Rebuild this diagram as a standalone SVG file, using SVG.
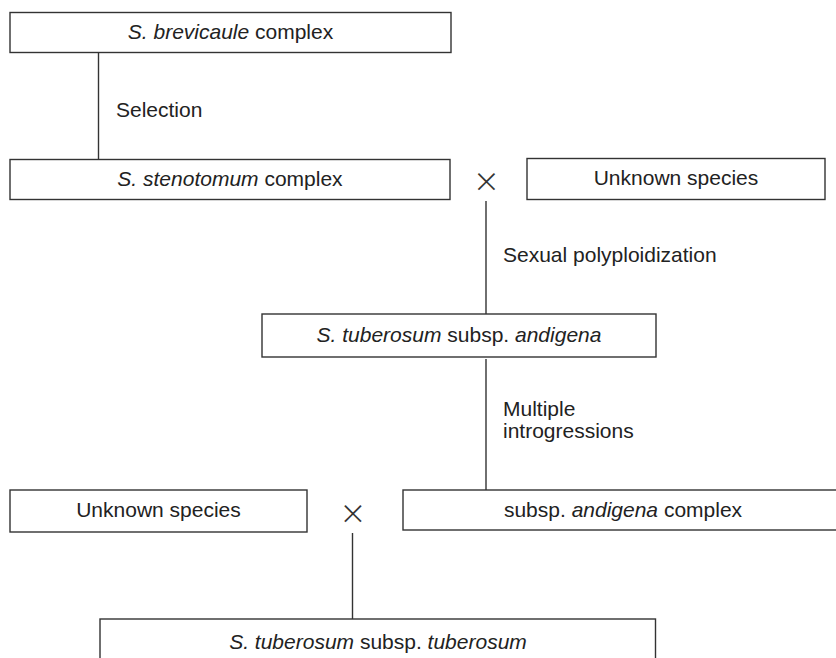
<svg xmlns="http://www.w3.org/2000/svg" width="836" height="658" viewBox="0 0 836 658">
<style>
.box{fill:#fff;stroke:#333;stroke-width:1.4}
.t{font-family:"Liberation Sans",Arial,sans-serif;font-size:21px;fill:#222}
.c{text-anchor:middle}
.i{font-style:italic}
.x{font-family:Inter,"Liberation Sans",sans-serif;font-weight:200;font-size:40px;fill:#333;text-anchor:middle}
.ln{stroke:#333;stroke-width:1.4;fill:none}
</style>
<rect width="836" height="658" fill="#fff"/>
<g id="connectors">
<line class="ln" x1="98.5" y1="52" x2="98.5" y2="160"/>
<line class="ln" x1="486" y1="201" x2="486" y2="314"/>
<line class="ln" x1="486" y1="359" x2="486" y2="490"/>
<line class="ln" x1="352.5" y1="533" x2="352.5" y2="619"/>
<text class="t" x="116" y="117">Selection</text>
<text class="t" x="503" y="262">Sexual polyploidization</text>
<text class="t" x="503" y="416">Multiple</text>
<text class="t" x="503" y="438">introgressions</text>
<text class="x" x="486.5" y="193">×</text>
<text class="x" x="353" y="525">×</text>
</g>
<g id="brevicaule">
<rect class="box" x="10" y="12.5" width="441" height="40"/>
<text class="t c" x="230.5" y="39"><tspan class="i">S. brevicaule</tspan> complex</text>
</g>
<g id="stenotomum">
<rect class="box" x="10" y="159.5" width="440" height="40"/>
<text class="t c" x="230" y="186"><tspan class="i">S. stenotomum</tspan> complex</text>
</g>
<g id="unknown1">
<rect class="box" x="527" y="158.5" width="298" height="41"/>
<text class="t c" x="676" y="185">Unknown species</text>
</g>
<g id="andigena">
<rect class="box" x="262" y="314" width="394" height="43"/>
<text class="t c" x="459" y="342"><tspan class="i">S. tuberosum</tspan> subsp. <tspan class="i">andigena</tspan></text>
</g>
<g id="unknown2">
<rect class="box" x="10" y="490" width="297" height="42"/>
<text class="t c" x="158.5" y="517">Unknown species</text>
</g>
<g id="andigenaComplex">
<rect class="box" x="403" y="490" width="440" height="40"/>
<text class="t c" x="623" y="517">subsp. <tspan class="i">andigena</tspan> complex</text>
</g>
<g id="tuberosum">
<rect class="box" x="100" y="619" width="555.5" height="50"/>
<text class="t c" x="378" y="649"><tspan class="i">S. tuberosum</tspan> subsp. <tspan class="i">tuberosum</tspan></text>
</g>
</svg>
